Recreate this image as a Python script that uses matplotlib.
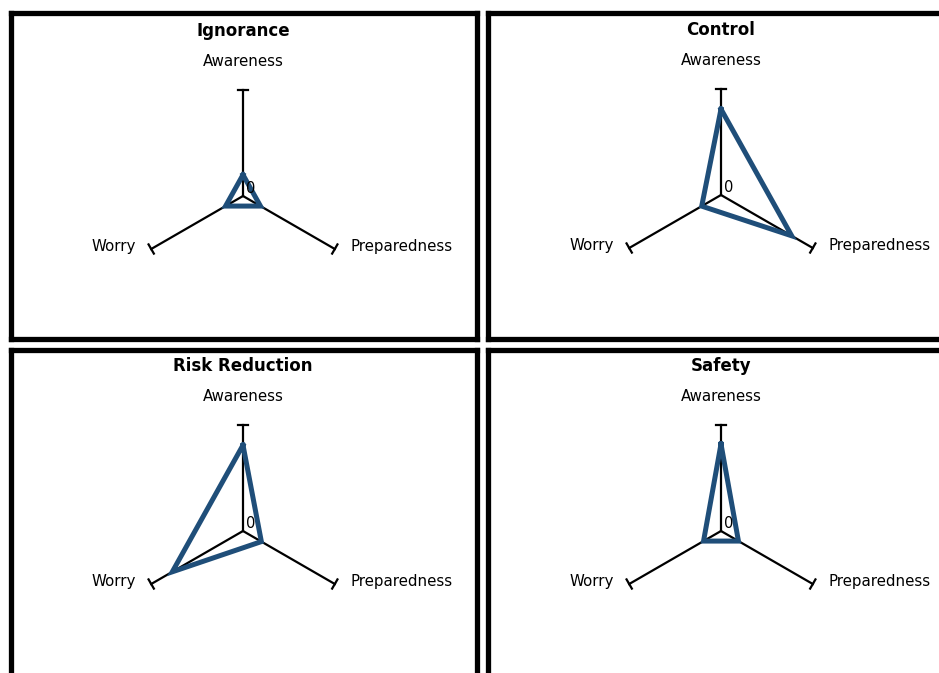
import numpy as np
import matplotlib.pyplot as plt

# radar data (scale 0-5)
axes_names = ["Awareness", "Preparedness", "Worry"]
titles = ["Ignorance", "Control", "Risk Reduction", "Safety"]
ignorance = [1.0, 0.95, 0.95]
control = [4.05, 3.85, 1.05]
risk_reduction = [4.05, 1.0, 3.85]
safety = [4.1, 0.95, 0.95]
all_values = [ignorance, control, risk_reduction, safety]
max_val = 5.0

angles = np.deg2rad([90, -30, 210])
line_col = "#1F4E79"

fig = plt.figure(figsize=(9.39, 6.73), dpi=100)
W, H = 939.0, 673.0

# panel rectangles in pixels (left, top, right, bottom)
boxes = [(10.5, 12.5, 476.5, 339.0), (487.5, 12.5, 953.5, 339.0),
         (10.5, 350.0, 476.5, 676.5), (487.5, 350.0, 953.5, 676.5)]
centers = [(243, 196), (721, 195), (243, 531), (721, 531)]
R = 106.0  # pixel length of max_val

for i, (title, vals) in enumerate(zip(titles, all_values)):
    l, t, r, b = boxes[i]
    cx, cy = centers[i]
    ax = fig.add_axes([l / W, 1 - b / H, (r - l) / W, (b - t) / H])
    ax.set_xlim((l - cx) / R, (r - cx) / R)
    ax.set_ylim((cy - b) / R, (cy - t) / R)
    ax.set_xticks([])
    ax.set_yticks([])
    for sp in ax.spines.values():
        sp.set_linewidth(3.8)
        sp.set_color("black")

    # spokes with end caps
    for a in angles:
        ex, ey = np.cos(a), np.sin(a)
        ax.plot([0, ex], [0, ey], color="black", lw=1.6, zorder=2)
        px, py = -np.sin(a) * 0.05, np.cos(a) * 0.05
        ax.plot([ex - px, ex + px], [ey - py, ey + py], color="black", lw=1.6, zorder=2)

    # radar polygon
    v = np.array(vals + vals[:1]) / max_val
    a2 = np.append(angles, angles[0])
    ax.plot(v * np.cos(a2), v * np.sin(a2), color=line_col, lw=3.6,
            solid_joinstyle="miter", zorder=3)

    ax.text(0.03, 0.075, "0", fontsize=10.5, ha="left", va="center", zorder=4)
    ax.text(0, 1.56, title, fontsize=12, fontweight="bold", ha="center", va="center")
    ax.text(0, 1.265, axes_names[0], fontsize=10.8, ha="center", va="center")
    ax.text(1.01, -0.48, axes_names[1], fontsize=10.8, ha="left", va="center")
    ax.text(-1.01, -0.48, axes_names[2], fontsize=10.8, ha="right", va="center")

plt.savefig("out.png", dpi=100)
